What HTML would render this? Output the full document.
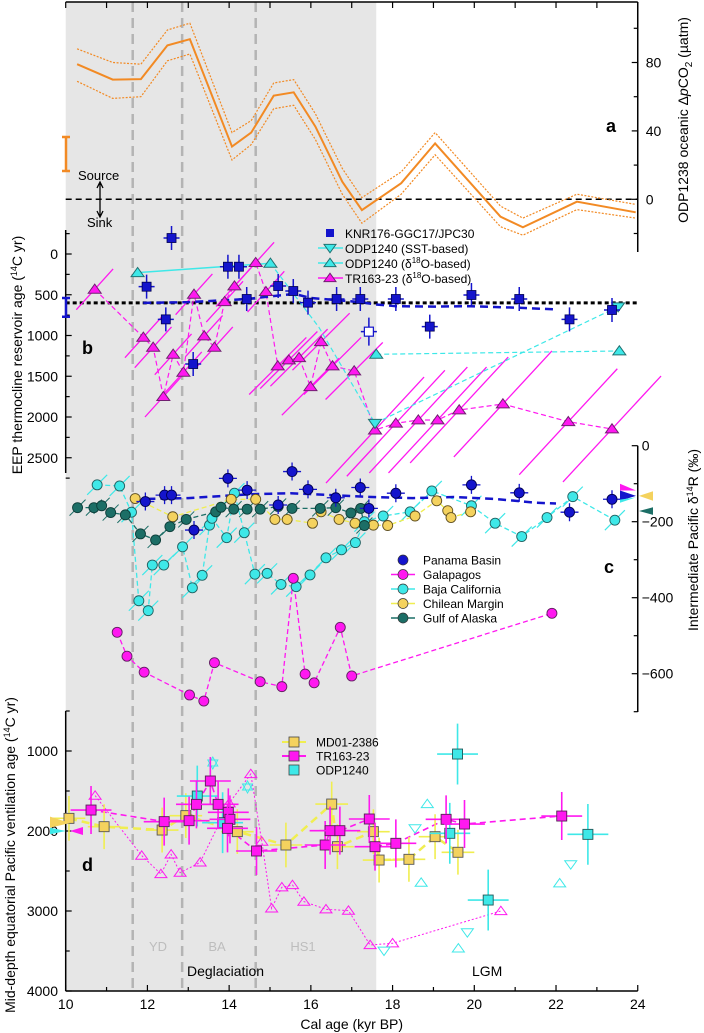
<!DOCTYPE html>
<html><head><meta charset="utf-8"><style>
html,body{margin:0;padding:0;background:#fff;}
svg{display:block;font-family:"Liberation Sans",Arial,sans-serif;}
</style></head><body>
<svg id="chart" width="704" height="1033" viewBox="0 0 704 1033" xmlns="http://www.w3.org/2000/svg"></svg>
<script>
// ---------- DATA ----------
// panel a
const aAge=[10.28,11.15,11.84,12.49,13.04,14.07,14.54,15.09,15.58,16.11,16.77,17.25,18.21,19.04,20.64,21.19,22.51,23.95];
const aMean=[79,70,70.3,90,93.6,30.8,39,60.6,62.6,42.5,10.3,-6.3,9.4,32.7,-10.2,-16.4,-1.4,-7.6];
const aUpper=[88,80,79,99,103,39,46,68,70,50,18,1,16,39,-4,-11,3,-3];
const aLower=[69,59,60,81,85,23,32,53,55,35,3,-14,3,26,-16,-21,-6,-11];
const aTicks=[0,40,80];
// panel b
const knrAge=[12.59,11.98,12.45,13.12,13.97,14.24,14.43,15.2,15.57,15.93,16.63,17.21,18.08,18.91,19.93,21.1,22.33,23.37];
const knrRes=[-196,401,802,1350,156,156,552,393,454,597,552,552,552,891,503,552,802,687];
const knrOpenAge=[17.42];
const knrOpenRes=[953];
const bMeanAge=[11.9,12.5,13.0,14.0,14.5,15.0,15.6,16.0,16.6,17.2,17.6,18.1,19.0,19.9,20.5,21.1,22.0];
const bMeanRes=[600,595,590,565,550,520,490,540,565,590,620,640,645,640,650,660,680];
const trbAge=[10.71,11.9,12.14,12.39,12.63,12.88,13.14,13.39,13.64,13.89,14.13,14.65,14.9,15.19,15.46,15.71,15.99,16.25,16.53,17.06,17.57,18.08,18.63,19.1,19.63,20.7,22.3,23.37];
const trbRes=[433,1022,1145,1750,1231,1452,495,1006,1145,585,393,106,462,1374,1301,1272,1628,1076,1374,1435,2160,2077,2037,2037,1914,1840,2058,2147];
const o18Age=[11.76,15.01,17.6,23.55];
const o18Res=[229,114,1231,1190];
const sstAge=[17.57,23.52];
const sstRes=[2077,647];
const bTicks=[0,500,1000,1500,2000,2500];
// panel c
const panAge=[11.95,12.42,12.59,13.14,13.97,14.44,15.2,15.54,15.93,16.61,17.21,17.42,18.08,19.93,21.1,22.33,23.37];
const panVal=[-147,-130,-130,-222,-86,-117,-156,-68,-115,-137,-110,-165,-125,-103,-124,-175,-141];
const cMeanAge=[12.0,13.0,14.5,15.5,16.5,17.5,18.5,19.5,20.5,21.5,22.0];
const cMeanVal=[-140,-138,-128,-125,-130,-135,-138,-135,-140,-150,-152];
const galAge=[11.26,11.5,11.92,13.03,13.38,13.64,14.76,15.29,15.57,15.86,16.08,16.72,17.0,21.9];
const galVal=[-491,-554,-596,-656,-672,-571,-621,-634,-349,-601,-624,-478,-606,-441];
const bajaAge=[10.77,11.32,11.61,11.79,12.02,12.12,12.4,12.86,13.1,13.34,13.52,13.58,13.94,14.13,14.37,14.63,14.93,15.27,15.64,15.98,16.37,16.75,17.09,17.31,17.77,18.43,18.96,19.93,20.51,21.16,21.78,22.41,23.44];
const bajaVal=[-103,-106,-175,-408,-434,-314,-314,-266,-374,-341,-209,-191,-242,-125,-229,-338,-336,-365,-371,-340,-295,-274,-255,-200,-185,-174,-119,-158,-204,-239,-189,-134,-196];
const chileAge=[11.7,12.62,14.05,14.65,15.12,15.42,16.04,16.25,16.69,17.08,17.53,17.88,18.55,19.08,19.35,19.43,19.91];
const chileVal=[-139,-187,-141,-141,-194,-194,-204,-174,-194,-204,-209,-210,-185,-145,-171,-189,-174];
const gulfAge=[10.29,10.69,10.88,11.1,11.46,11.83,12.2,12.55,12.95,13.67,13.8,14.11,14.44,14.76,15.2,15.54,16.23,16.61,16.98,17.22,17.31];
const gulfVal=[-163,-163,-158,-176,-182,-232,-248,-213,-194,-174,-162,-167,-167,-167,-160,-165,-165,-163,-177,-165,-210];
const cTicks=[0,-200,-400,-600];
// panel d
const mdAge=[10.08,10.94,12.36,12.94,14.2,15.39,16.51,16.65,17.53,17.67,18.4,19.04,19.6];
const mdVal=[1842,1946,1988,1808,2008,2175,1663,2196,2008,2363,2354,2071,2266];
const trdAge=[10.62,12.41,13.02,13.2,13.54,13.73,13.98,14.02,13.96,14.67,16.35,16.47,16.71,17.43,17.57,18.08,19.31,19.76,22.14];
const trdVal=[1738,1883,1871,1667,1375,1667,1767,1854,1967,2250,2175,1996,1996,1850,2196,2154,1854,1913,1813];
const odpAge=[13.22,13.84,19.4,19.59,20.34,22.78];
const odpVal=[1563,1896,2029,1038,2863,2042];
const otriAge=[10.72,11.86,12.33,12.58,12.8,13.29,14.0,14.53,14.8,15.04,15.29,15.55,15.83,16.37,16.92,17.45,18.0,20.65];
const otriVal=[1558,2308,2538,2292,2521,2392,1654,1288,2133,2967,2704,2675,2883,2979,2996,3425,3404,3000];
const cupAge=[18.85,18.7,19.61,22.09];
const cupVal=[1663,2646,3467,2654];
const cdnAge=[18.55,17.79,19.83,22.36];
const cdnVal=[1967,3496,3267,2417];
const starAge=[13.6,14.45];
const starVal=[1150,1450];
const dTicks=[1000,2000,3000,4000];
const xTicks=[10,12,14,16,18,20,22,24];

// ---------- SCALES ----------
const X=k=>65.7+40.86*(k-10);
const Ya=v=>199.3-1.71*v;
const Yb=v=>254+0.0815*v;
const Yc=v=>445.7-0.38*v;
const Yd=v=>751+0.08*(v-1000);

const NS="http://www.w3.org/2000/svg";
const svg=document.getElementById('chart');
function mk(tag,at,parent){const e=document.createElementNS(NS,tag);for(const k in at)e.setAttribute(k,at[k]);(parent||svg).appendChild(e);return e;}
function grp(name){const g=mk('g',{});


return g;}
const C={or:'#f28a24',bl:'#1414cc',mg:'#ff18f0',cy:'#3ee8e8',ye:'#f4d25e',yl:'#f0ee50',tl:'#1c6e66',gr:'#e6e6e6'};
function txt(g,x,y,s,opt){const t=mk('text',Object.assign({x:x,y:y,'font-size':14,fill:'#000'},opt||{}),g);t.textContent=s;return t;}
function path(pts){return pts.map((p,i)=>(i?'L':'M')+p[0].toFixed(1)+' '+p[1].toFixed(1)).join(' ');}

// ---------- BACKGROUND ----------
const bg=grp('deglaciation-shading');
mk('rect',{x:X(10),y:2,width:X(17.6)-X(10),height:989,fill:C.gr},bg);
const vl=grp('event-boundaries');
[11.64,12.85,14.65].forEach(k=>{mk('line',{x1:X(k),x2:X(k),y1:2,y2:991,stroke:'#b4b4b4','stroke-width':2.5,'stroke-dasharray':'10 6'},vl);});

// ---------- PANEL A ----------
const pa=grp('panel-a');
mk('line',{x1:X(10),x2:X(24),y1:2,y2:2,stroke:'#000','stroke-width':1.5},pa);
for(let k=10;k<=24;k++){mk('line',{x1:X(k),x2:X(k),y1:2,y2:8,stroke:'#000','stroke-width':1.2},pa);}
mk('line',{x1:X(24),x2:X(24),y1:2,y2:252,stroke:'#000','stroke-width':1.5},pa);
for(let v=-20;v<=100;v+=20){mk('line',{x1:X(24),x2:X(24)-(v%40===0?6:4),y1:Ya(v),y2:Ya(v),stroke:'#000','stroke-width':1.2},pa);}
aTicks.forEach(v=>{txt(pa,X(24)+8,Ya(v)+5,String(v));});
const at=txt(pa,0,0,'',{transform:'translate(688,120) rotate(-90)','text-anchor':'middle','font-size':14});
at.innerHTML='ODP1238 oceanic Δ<tspan font-style="italic">p</tspan>CO<tspan font-size="10" dy="4">2</tspan><tspan dy="-4"> (µatm)</tspan>';


mk('line',{x1:X(10),x2:X(24),y1:Ya(0),y2:Ya(0),stroke:'#000','stroke-width':1.5,'stroke-dasharray':'6 4'},pa);
const aU=mk('path',{d:path(aAge.map((k,i)=>[X(k),Ya(aUpper[i])])),fill:'none',stroke:C.or,'stroke-width':1.2,'stroke-dasharray':'2 1.5'},pa);


const aL=mk('path',{d:path(aAge.map((k,i)=>[X(k),Ya(aLower[i])])),fill:'none',stroke:C.or,'stroke-width':1.2,'stroke-dasharray':'2 1.5'},pa);


const aM=mk('path',{d:path(aAge.map((k,i)=>[X(k),Ya(aMean[i])])),fill:'none',stroke:C.or,'stroke-width':2},pa);


mk('path',{d:'M62 137 H70 M66 137 V171 M62 171 H70',stroke:C.or,'stroke-width':2.5,fill:'none'},pa);
txt(pa,78,180,'Source',{'font-size':13});
txt(pa,87,227,'Sink',{'font-size':13});
mk('path',{d:'M100 183 V216 M97 188 L100 182 L103 188 M97 211 L100 217 L103 211',stroke:'#000','stroke-width':1.3,fill:'none'},pa);
txt(pa,606,132,'a',{'font-weight':'bold','font-size':18});

// ---------- PANEL B ----------
const pb=grp('panel-b');
mk('line',{x1:X(10),x2:X(10),y1:230,y2:473,stroke:'#000','stroke-width':1.5},pb);
for(let v=-250;v<=2750;v+=250){mk('line',{x1:X(10),x2:X(10)+(v%500===0?6:4),y1:Yb(v),y2:Yb(v),stroke:'#000','stroke-width':1.2},pb);}
bTicks.forEach(v=>{txt(pb,58,Yb(v)+5,String(v),{'text-anchor':'end'});});
const bt=txt(pb,0,0,'',{transform:'translate(22,355) rotate(-90)','text-anchor':'middle','font-size':14});
bt.innerHTML='EEP thermocline reservoir age (<tspan font-size="9" dy="-5">14</tspan><tspan dy="5">C yr)</tspan>';


txt(pb,82,354,'b',{'font-weight':'bold','font-size':18});
mk('line',{x1:X(10),x2:X(24),y1:Yb(600),y2:Yb(600),stroke:'#000','stroke-width':3,'stroke-dasharray':'4 3'},pb);
mk('path',{d:`M62 ${Yb(540)} H70 M66 ${Yb(540)} V${Yb(770)} M62 ${Yb(770)} H70`,stroke:C.bl,'stroke-width':2.5,fill:'none'},pb);
trbAge.forEach((k,i)=>{const xe=k>17.5?1.2:(k>15?0.7:0.45), ye=k>17.5?650:(k>15?350:250);
const l=mk('line',{x1:X(k-xe),y1:Yb(trbRes[i]+ye),x2:X(k+xe),y2:Yb(trbRes[i]-ye),stroke:C.mg,'stroke-width':1.3},pb);

});
const trl=mk('path',{d:path(trbAge.map((k,i)=>[X(k),Yb(trbRes[i])])),fill:'none',stroke:C.mg,'stroke-width':1.2,'stroke-dasharray':'5 3'},pb);


mk('line',{x1:X(o18Age[0]),y1:Yb(o18Res[0]),x2:X(o18Age[1]),y2:Yb(o18Res[1]),stroke:C.cy,'stroke-width':1.5},pb);
mk('path',{d:path([[X(o18Age[1]),Yb(o18Res[1])],[X(16.2),Yb(900)],[X(sstAge[0]),Yb(sstRes[0])],[X(sstAge[1]),Yb(sstRes[1])]]),fill:'none',stroke:C.cy,'stroke-width':1.2,'stroke-dasharray':'5 3'},pb);
mk('path',{d:path([[X(o18Age[2]),Yb(o18Res[2])],[X(o18Age[3]),Yb(o18Res[3])]]),fill:'none',stroke:C.cy,'stroke-width':1.2,'stroke-dasharray':'5 3'},pb);
const bml=mk('path',{d:path(bMeanAge.map((k,i)=>[X(k),Yb(bMeanRes[i])])),fill:'none',stroke:C.bl,'stroke-width':2.5,'stroke-dasharray':'8 5'},pb);


function tri(g,x,y,s,fill,stroke,down){const h=s;const d=down?`M${x-s} ${y-h*0.6} L${x+s} ${y-h*0.6} L${x} ${y+h*0.8} Z`:`M${x-s} ${y+h*0.6} L${x+s} ${y+h*0.6} L${x} ${y-h*0.8} Z`;return mk('path',{d:d,fill:fill,stroke:stroke,'stroke-width':1},g);}
trbAge.forEach((k,i)=>{const t=tri(pb,X(k),Yb(trbRes[i]),6.5,C.mg,'#702070');

});
o18Age.forEach((k,i)=>{const t=tri(pb,X(k),Yb(o18Res[i]),6.5,C.cy,'#207070');

});
sstAge.forEach((k,i)=>{const t=tri(pb,X(k),Yb(sstRes[i]),6.5,C.cy,'#207070',true);

});
knrAge.forEach((k,i)=>{const x=X(k),y=Yb(knrRes[i]);
mk('path',{d:`M${x} ${y-12} V${y+12} M${x-8} ${y} H${x+8}`,stroke:C.bl,'stroke-width':1.5},pb);
const r=mk('rect',{x:x-4.5,y:y-4.5,width:9,height:9,fill:C.bl,stroke:'#000050','stroke-width':0.8},pb);

});
knrOpenAge.forEach((k,i)=>{const x=X(k),y=Yb(knrOpenRes[i]);
mk('path',{d:`M${x} ${y-14} V${y+14} M${x-8} ${y} H${x+8}`,stroke:C.bl,'stroke-width':1.5},pb);
const r=mk('rect',{x:x-4.5,y:y-4.5,width:9,height:9,fill:'#fff',stroke:C.bl,'stroke-width':1.2},pb);

});
const lb=grp('legend-b');
mk('rect',{x:326,y:229,width:8,height:8,fill:C.bl},lb);
txt(lb,345,238,'KNR176-GGC17/JPC30',{'font-size':12});
mk('line',{x1:318,x2:343,y1:248,y2:248,stroke:C.cy,'stroke-width':1.5},lb);tri(lb,330,248,6,C.cy,'#207070',true);
txt(lb,345,253,'ODP1240 (SST-based)',{'font-size':12});
mk('line',{x1:318,x2:343,y1:263,y2:263,stroke:C.cy,'stroke-width':1.5},lb);tri(lb,330,263,6,C.cy,'#207070');
const l3=txt(lb,345,268,'',{'font-size':12});l3.innerHTML='ODP1240 (δ<tspan font-size="8" dy="-5">18</tspan><tspan dy="5">O-based)</tspan>';
mk('line',{x1:318,x2:343,y1:278,y2:278,stroke:C.mg,'stroke-width':1.5},lb);tri(lb,330,278,6,C.mg,'#702070');
const l4=txt(lb,345,283,'',{'font-size':12});l4.innerHTML='TR163-23 (δ<tspan font-size="8" dy="-5">18</tspan><tspan dy="5">O-based)</tspan>';

// ---------- PANEL C ----------
const pc=grp('panel-c');
mk('line',{x1:X(24),x2:X(24),y1:Yc(0),y2:712,stroke:'#000','stroke-width':1.5},pc);
for(let v=0;v>=-700;v-=100){mk('line',{x1:X(24),x2:X(24)-(v%200===0?6:4),y1:Yc(v),y2:Yc(v),stroke:'#000','stroke-width':1.2},pc);}
cTicks.forEach(v=>{txt(pc,X(24)+4,Yc(v)+5,v===0?'0':'\u2212'+Math.abs(v));});
const ct=txt(pc,0,0,'',{transform:'translate(698,540) rotate(-90)','text-anchor':'middle','font-size':14});
ct.innerHTML='Intermediate Pacific δ<tspan font-size="9" dy="-5">14</tspan><tspan dy="5">R (‰)</tspan>';


txt(pc,604,573,'c',{'font-weight':'bold','font-size':18});
function series(g,ages,vals,Y,col,dash,w){return mk('path',{d:path(ages.map((k,i)=>[X(k),Y(vals[i])])),fill:'none',stroke:col,'stroke-width':w||1.3,'stroke-dasharray':dash},g);}
const sl1=series(pc,bajaAge,bajaVal,Yc,C.cy,'5 3');


bajaAge.forEach((k,i)=>{mk('line',{x1:X(k)-10,y1:Yc(bajaVal[i])+10,x2:X(k)+10,y2:Yc(bajaVal[i])-10,stroke:C.cy,'stroke-width':1.2},pc);});
const sl2=series(pc,galAge,galVal,Yc,C.mg,'5 3');


const sl3=series(pc,chileAge,chileVal,Yc,C.yl,'5 3');


const sl4=series(pc,gulfAge,gulfVal,Yc,C.tl,'5 3');


const sl5=series(pc,cMeanAge,cMeanVal,Yc,C.bl,'8 5',2.5);


function dots(g,ages,vals,Y,fill,stroke,name){ages.forEach((k,i)=>{const c=mk('circle',{cx:X(k),cy:Y(vals[i]),r:5,fill:fill,stroke:stroke,'stroke-width':0.9},g);

});}
gulfAge.forEach((k,i)=>{mk('line',{x1:X(k)-8,y1:Yc(gulfVal[i])+8,x2:X(k)+8,y2:Yc(gulfVal[i])-8,stroke:C.tl,'stroke-width':1},pc);});
dots(pc,bajaAge,bajaVal,Yc,C.cy,'#206060','baja-point');
dots(pc,chileAge,chileVal,Yc,C.ye,'#605020','chile-point');
dots(pc,gulfAge,gulfVal,Yc,C.tl,'#0c3c38','gulf-point');
dots(pc,galAge,galVal,Yc,C.mg,'#602060','galapagos-point');
panAge.forEach((k,i)=>{mk('path',{d:`M${X(k)} ${Yc(panVal[i])-9} V${Yc(panVal[i])+9} M${X(k)-9} ${Yc(panVal[i])} H${X(k)+9}`,stroke:C.bl,'stroke-width':1.3},pc);});
dots(pc,panAge,panVal,Yc,C.bl,'#000050','panama-point');
const sm=grp('panel-c-side-markers');
mk('path',{d:`M620 ${Yc(-100)} L636 ${Yc(-118)} L620 ${Yc(-118)} Z`,fill:C.mg},sm);
mk('path',{d:`M620 ${Yc(-118)} L636 ${Yc(-132)} L620 ${Yc(-145)} Z`,fill:C.bl},sm);
mk('path',{d:`M620 ${Yc(-142)} L636 ${Yc(-136)} L620 ${Yc(-150)} Z`,fill:C.cy},sm);
mk('path',{d:`M653 ${Yc(-120)} L639 ${Yc(-132)} L653 ${Yc(-145)} Z`,fill:C.ye},sm);
mk('path',{d:`M653 ${Yc(-162)} L639 ${Yc(-172)} L653 ${Yc(-182)} Z`,fill:C.tl},sm);
const lc=grp('legend-c');
const cl=[['Panama Basin',C.bl,null],['Galapagos',C.mg,C.mg],['Baja California',C.cy,C.cy],['Chilean Margin',C.ye,C.yl],['Gulf of Alaska',C.tl,C.tl]];
cl.forEach((e,i)=>{const y=560+i*14.5;if(e[2])mk('line',{x1:391,x2:415,y1:y,y2:y,stroke:e[2],'stroke-width':1.5},lc);
mk('circle',{cx:403,cy:y,r:5,fill:e[1],stroke:'#333','stroke-width':0.7},lc);
txt(lc,423,y+4.5,e[0],{'font-size':12});});

// ---------- PANEL D ----------
const pd=grp('panel-d');
mk('line',{x1:X(10),x2:X(10),y1:711,y2:991,stroke:'#000','stroke-width':1.5},pd);
mk('line',{x1:X(10),x2:X(24),y1:991,y2:991,stroke:'#000','stroke-width':1.5},pd);
for(let v=500;v<=4000;v+=500){mk('line',{x1:X(10),x2:X(10)+(v%1000===0?6:4),y1:Yd(v),y2:Yd(v),stroke:'#000','stroke-width':1.2},pd);}
dTicks.forEach(v=>{txt(pd,58,Yd(v)+5,String(v),{'text-anchor':'end'});});
for(let k=10;k<=24;k++){mk('line',{x1:X(k),x2:X(k),y1:991,y2:k%2===0?985:987,stroke:'#000','stroke-width':1.2},pd);}
xTicks.forEach(k=>{txt(pd,X(k),1009,String(k),{'text-anchor':'middle'});});
const xt=txt(pd,X(17),1029,'Cal age (kyr BP)',{'text-anchor':'middle'});


const dt=txt(pd,0,0,'',{transform:'translate(15,855) rotate(-90)','text-anchor':'middle','font-size':14});
dt.innerHTML='Mid-depth equatorial Pacific ventilation age (<tspan font-size="9" dy="-5">14</tspan><tspan dy="5">C yr)</tspan>';


txt(pd,82,871,'d',{'font-weight':'bold','font-size':18});
txt(pd,158,951,'YD',{'text-anchor':'middle',fill:'#bdbdbd','font-size':13});
txt(pd,217,951,'BA',{'text-anchor':'middle',fill:'#bdbdbd','font-size':13});
txt(pd,303,951,'HS1',{'text-anchor':'middle',fill:'#bdbdbd','font-size':13});
txt(pd,187,976,'Deglaciation',{'font-size':14});
txt(pd,472,976,'LGM',{'font-size':14});
const dl1=series(pd,otriAge,otriVal,Yd,C.mg,'2 2',1);


const dl2=series(pd,mdAge,mdVal,Yd,C.yl,'8 5',2.5);


const dl3=series(pd,trdAge,trdVal,Yd,C.mg,'6 4',1.6);


otriAge.forEach((k,i)=>{const t=tri(pd,X(k),Yd(otriVal[i]),6,'none',C.mg);

});
cupAge.forEach((k,i)=>{const t=tri(pd,X(k),Yd(cupVal[i]),6,'none',C.cy);

});
cdnAge.forEach((k,i)=>{const t=tri(pd,X(k),Yd(cdnVal[i]),6,'none',C.cy,true);

});
starAge.forEach((k,i)=>{const x=X(k),y=Yd(starVal[i]);
const s=mk('path',{d:`M${x-5} ${y+3} L${x+5} ${y+3} L${x} ${y-6} Z M${x-5} ${y-3} L${x+5} ${y-3} L${x} ${y+6} Z`,fill:'none',stroke:C.cy,'stroke-width':1},pd);

});
function sq(g,ages,vals,col,lc,edge,name,xe,ye){ages.forEach((k,i)=>{const x=X(k),y=Yd(vals[i]);
mk('path',{d:`M${X(k-xe)} ${y} H${X(k+xe)} M${x} ${Yd(vals[i]-ye)} V${Yd(vals[i]+ye)}`,stroke:lc,'stroke-width':1.6},g);
const r=mk('rect',{x:x-5,y:y-5,width:10,height:10,fill:col,stroke:edge,'stroke-width':0.9},g);

});}
sq(pd,mdAge,mdVal,C.ye,C.yl,'#555','md01-point',0.4,280);
sq(pd,odpAge,odpVal,C.cy,C.cy,'#205858','odp1240-point',0.5,380);
sq(pd,trdAge,trdVal,C.mg,C.mg,'#552255','tr163-vent-point',0.5,300);
const dm=grp('panel-d-side-markers');
mk('path',{d:`M50 ${Yd(1820)} L70 ${Yd(1900)} L50 ${Yd(1960)} Z`,fill:C.ye},dm);
mk('path',{d:`M50 ${Yd(1960)} L66 ${Yd(2000)} L50 ${Yd(2040)} Z`,fill:C.cy},dm);
mk('path',{d:`M83 ${Yd(1950)} L70 ${Yd(2000)} L83 ${Yd(2050)} Z`,fill:C.mg},dm);
const ld=grp('legend-d');
[['MD01-2386',C.ye,C.yl],['TR163-23',C.mg,C.mg],['ODP1240',C.cy,null]].forEach((e,i)=>{const y=742+i*14;
if(e[2])mk('line',{x1:282,x2:306,y1:y,y2:y,stroke:e[2],'stroke-width':2},ld);
mk('rect',{x:289,y:y-5,width:10,height:10,fill:e[1],stroke:'#444','stroke-width':0.8},ld);
txt(ld,316,y+4.5,e[0],{'font-size':12});});
</script>
</body></html>
